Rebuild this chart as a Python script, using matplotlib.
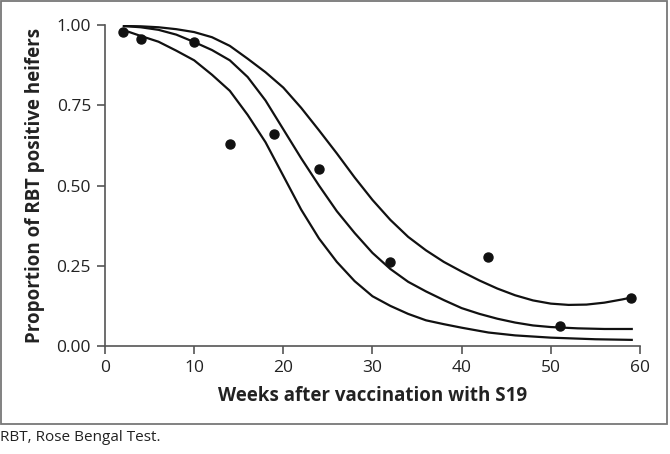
import matplotlib
matplotlib.use("Agg")
import matplotlib.pyplot as plt
from matplotlib.patches import Rectangle

plt.rcParams['font.family'] = ['Open Sans', 'DejaVu Sans']

# observed proportions
weeks = [2, 4, 10, 14, 19, 24, 32, 43, 51, 59]
prop = [0.979, 0.956, 0.947, 0.629, 0.661, 0.55, 0.263, 0.278, 0.062, 0.15]

# upper curve
up_x = [2, 4, 6, 8, 10, 12, 14, 16, 18, 20, 22, 24, 26, 28, 30, 32, 34, 36, 38,
        40, 42, 44, 46, 48, 50, 52, 54, 56, 58, 59.2]
up_y = [0.997, 0.996, 0.993, 0.987, 0.978, 0.962, 0.935, 0.895, 0.853, 0.805,
        0.742, 0.672, 0.6, 0.525, 0.455, 0.393, 0.34, 0.298, 0.262, 0.232, 0.204,
        0.179, 0.158, 0.142, 0.132, 0.128, 0.129, 0.135, 0.145, 0.152]

# middle curve
mid_x = [2, 4, 6, 8, 10, 12, 14, 16, 18, 20, 22, 24, 26, 28, 30, 32, 34, 36, 38,
         40, 42, 44, 46, 48, 50, 53, 56, 59.2]
mid_y = [0.997, 0.993, 0.985, 0.97, 0.947, 0.922, 0.89, 0.838, 0.765, 0.675, 0.585,
         0.5, 0.42, 0.352, 0.29, 0.24, 0.2, 0.17, 0.143, 0.118, 0.1, 0.085, 0.073,
         0.064, 0.059, 0.055, 0.053, 0.053]

# lower curve
low_x = [2, 4, 6, 8, 10, 12, 14, 16, 18, 20, 22, 24, 26, 28, 30, 32, 34, 36, 38,
         40, 43, 46, 50, 55, 59.2]
low_y = [0.985, 0.966, 0.948, 0.92, 0.89, 0.845, 0.795, 0.72, 0.635, 0.53, 0.425,
         0.335, 0.262, 0.202, 0.155, 0.125, 0.1, 0.08, 0.068, 0.057, 0.042, 0.033,
         0.026, 0.021, 0.019]

xticks = [0, 10, 20, 30, 40, 50, 60]
yticks = [0.0, 0.25, 0.5, 0.75, 1.0]

fig = plt.figure(figsize=(6.7, 4.54), dpi=100)
ax = fig.add_axes([0.1567, 0.2379, 0.7985, 0.707])

for cx, cy in [(up_x, up_y), (mid_x, mid_y), (low_x, low_y)]:
    ax.plot(cx, cy, color='#111111', lw=1.6, solid_capstyle='butt',
            solid_joinstyle='round')
ax.plot(weeks, prop, 'o', color='#111111', ms=6.5)

ax.set_xlim(0, 60)
ax.set_ylim(0, 1)
ax.set_xticks(xticks)
ax.set_yticks(yticks)
ax.set_yticklabels(['%.2f' % v for v in yticks])
for s in ['top', 'right']:
    ax.spines[s].set_visible(False)
for s in ['left', 'bottom']:
    ax.spines[s].set_color('#555555')
    ax.spines[s].set_linewidth(1.2)
ax.tick_params(direction='out', length=6, width=1.2, color='#555555',
               labelsize=12.5, labelcolor='#222222', pad=4)
ax.set_xlabel('Weeks after vaccination with S19', fontsize=13.5, fontweight='bold',
              color='#222222', labelpad=7)
ax.set_ylabel('Proportion of RBT positive heifers', fontsize=13.5, fontweight='bold',
              color='#222222', labelpad=8)
for sp in ax.spines.values():
    sp.set_clip_on(False)

fig.patches.append(Rectangle((0.002, 0.066), 0.993, 0.932, transform=fig.transFigure,
                             fill=False, edgecolor='#777777', lw=1.3))
fig.text(0.0, 0.037, 'RBT, Rose Bengal Test.', fontsize=11, color='#222222',
         va='center', ha='left')

fig.savefig('out.png', dpi=100)
